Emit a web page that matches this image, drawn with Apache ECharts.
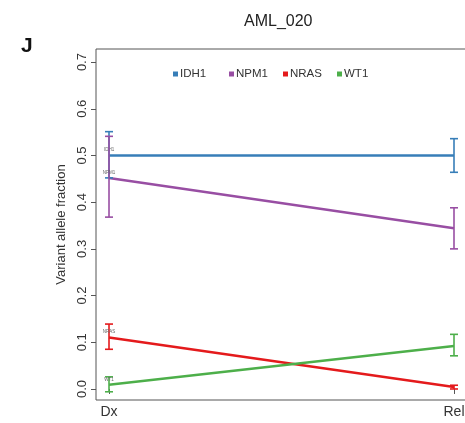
<!DOCTYPE html>
<html>
<head>
<meta charset="utf-8">
<script src="https://cdn.jsdelivr.net/npm/echarts@6/dist/echarts.min.js"></script>
<style>
  html, body { margin: 0; padding: 0; background: #fff; }
  #chart { width: 465px; height: 423px; }
</style>
</head>
<body>
<div id="chart"></div>
<script>
// 时间点（x 轴）
var timePoints = ['Dx', 'Rel'];
var genes = ['IDH1', 'NPM1', 'NRAS', 'WT1'];
var geneColors = ['#377EB8', '#984EA3', '#E41A1C', '#4DAF4A'];

// 每个基因在 Dx / Rel 的 VAF 和误差范围
var vafMean = [
    [0.500, 0.500],
    [0.452, 0.344],
    [0.110, 0.004],
    [0.009, 0.092]
];
var vafLow = [
    [0.452, 0.464],
    [0.368, 0.300],
    [0.085, 0.000],
    [-0.006, 0.071]
];
var vafHigh = [
    [0.551, 0.536],
    [0.541, 0.388],
    [0.139, 0.008],
    [0.026, 0.117]
];
var yTicks = [0, 0.1, 0.2, 0.3, 0.4, 0.5, 0.6, 0.7];
var legendLeft = [173, 229, 283, 337]; //图例位置

var myChart = echarts.init(document.getElementById('chart'));
var series = [];

// 折线
genes.forEach(function(g, i) {
    series.push({
        name: g,
        type: 'line',
        symbol: 'none',
        z: 2 + i,
        lineStyle: { color: geneColors[i], width: 2.5 },
        itemStyle: { color: geneColors[i] },
        data: timePoints.map(function(t, j) { return [j + 1, vafMean[i][j]]; })
    });
});

// 误差线 + 小标签
genes.forEach(function(g, i) {
    series.push({
        name: g + '_err',
        type: 'custom',
        z: 10 + i,
        renderItem: function(params, api) {
            var x = api.value(0);
            var pLo = api.coord([x, api.value(1)]);
            var pHi = api.coord([x, api.value(2)]);
            var pMid = api.coord([x, api.value(3)]);
            var w = 4;
            var st = { stroke: geneColors[i], lineWidth: 1.6 };
            var children = [
                { type: 'line', shape: { x1: pLo[0], y1: pLo[1], x2: pHi[0], y2: pHi[1] }, style: st },
                { type: 'line', shape: { x1: pLo[0] - w, y1: pLo[1], x2: pLo[0] + w, y2: pLo[1] }, style: st },
                { type: 'line', shape: { x1: pHi[0] - w, y1: pHi[1], x2: pHi[0] + w, y2: pHi[1] }, style: st }
            ];
            if (x === 1) {
                children.push({
                    type: 'text',
                    x: pMid[0],
                    y: pMid[1] - 3,
                    style: { text: g, fontSize: 4.5, fill: '#666', align: 'center', verticalAlign: 'bottom', fontFamily: 'Liberation Sans' }
                });
            }
            return { type: 'group', children: children };
        },
        data: timePoints.map(function(t, j) { return [j + 1, vafLow[i][j], vafHigh[i][j], vafMean[i][j]]; })
    });
});

// 每个图例单独定位
var legends = genes.map(function(g, i) {
    return {
        data: [g],
        left: legendLeft[i],
        top: 68,
        icon: 'rect',
        itemWidth: 5,
        itemHeight: 5,
        padding: 0,
        textStyle: { fontSize: 11.5, color: '#333', padding: [0, 0, 0, -3] }
    };
});

var option = {
    animation: false,
    backgroundColor: '#fff',
    textStyle: { fontFamily: 'Liberation Sans' },
    title: [{
        text: 'AML_020',
        left: 239,
        top: 9,
        textStyle: { fontSize: 16, fontWeight: 'normal', color: '#222' }
    }, {
        text: 'J',
        left: 16,
        top: 31,
        textStyle: { fontSize: 21, fontWeight: 'bold', color: '#111' }
    }],
    legend: legends,
    grid: {
        left: 96,
        top: 49,
        bottom: 23,
        width: 392.5,
        containLabel: false,
        outerBoundsMode: 'none',
        show: true,
        borderColor: '#555',
        borderWidth: 1
    },
    xAxis: {
        type: 'value',
        min: 0.9623,
        max: 2.1,
        axisLine: { show: false },
        splitLine: { show: false },
        axisTick: { show: true, length: 5, customValues: [1, 2], lineStyle: { color: '#555' } },
        axisLabel: {
            customValues: [1, 2],
            margin: 5,
            fontSize: 14,
            color: '#333',
            formatter: function(v) { return timePoints[Math.round(v) - 1]; }
        }
    },
    yAxis: {
        type: 'value',
        min: -0.0236,
        max: 0.728,
        name: 'Variant allele fraction',
        nameLocation: 'middle',
        nameRotate: 90,
        nameGap: 28,
        nameTextStyle: { fontSize: 13, color: '#333' },
        axisLine: { show: false },
        splitLine: { show: false },
        axisTick: { show: true, length: 5, customValues: yTicks, lineStyle: { color: '#555' } },
        axisLabel: {
            customValues: yTicks,
            rotate: 90,
            margin: 7,
            fontSize: 13,
            color: '#333',
            formatter: function(v) { return v.toFixed(1); }
        }
    },
    series: series
};
myChart.setOption(option);
</script>
</body>
</html>
